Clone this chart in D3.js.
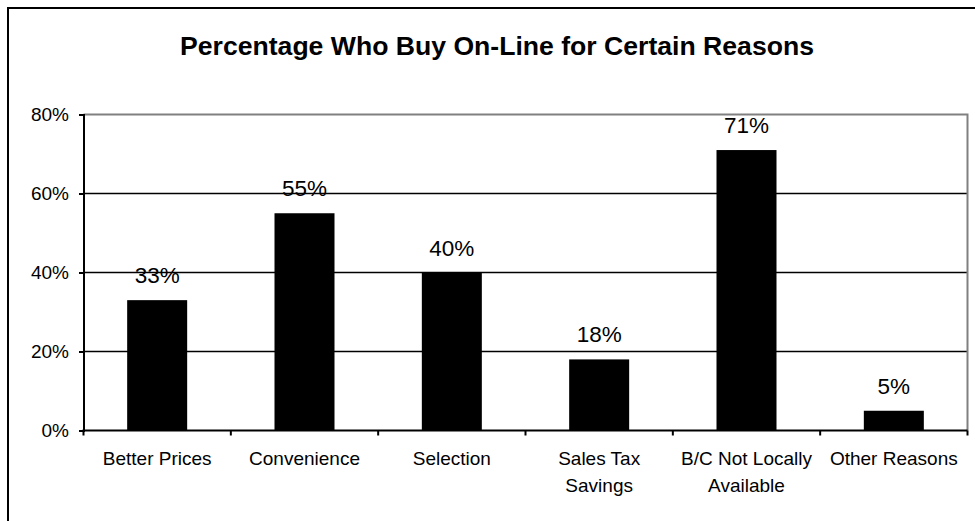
<!DOCTYPE html>
<html>
<head>
<meta charset="utf-8">
<script src="https://cdn.jsdelivr.net/npm/d3@7"></script>
<style>
  html, body { margin: 0; padding: 0; background: #fff; }
  svg { display: block; font-family: "Liberation Sans", Arial, sans-serif; }
</style>
</head>
<body>
<svg id="chart" width="975" height="521"></svg>
<script>
// Reasons people give for buying on-line, with the share citing each one
const categories = [
  ["Better Prices"],
  ["Convenience"],
  ["Selection"],
  ["Sales Tax", "Savings"],
  ["B/C Not Locally", "Available"],
  ["Other Reasons"]
];
const values = [33, 55, 40, 18, 71, 5];
const yTicks = [0, 20, 40, 60, 80];
const title = "Percentage Who Buy On-Line for Certain Reasons";

const svg = d3.select("#chart");
const W = 975, H = 521;
const plot = { left: 83.5, right: 967.5, top: 114.5, bottom: 430.5 };

// Outer chart frame (runs off the right and bottom of the canvas)
svg.append("rect")
  .attr("x", 8).attr("y", 8)
  .attr("width", W).attr("height", H)
  .attr("fill", "#fff").attr("stroke", "#000").attr("stroke-width", 2);

svg.append("text")
  .attr("x", 497).attr("y", 55)
  .attr("text-anchor", "middle")
  .attr("font-size", 26.6).attr("font-weight", "bold")
  .text(title);

const x = d3.scaleBand()
  .domain(d3.range(values.length))
  .range([plot.left, plot.right])
  .paddingInner(0).paddingOuter(0);

const y = d3.scaleLinear().domain([0, 80]).range([plot.bottom, plot.top]);

// Horizontal gridlines
svg.append("g")
  .selectAll("line")
  .data(yTicks.filter(t => t > 0 && t < 80))
  .join("line")
  .attr("x1", plot.left).attr("x2", plot.right)
  .attr("y1", d => y(d)).attr("y2", d => y(d))
  .attr("stroke", "#000").attr("stroke-width", 1.6);

// Plot-area border on top and right
svg.append("path")
  .attr("d", `M${plot.left},${y(80)}H${plot.right}V${plot.bottom}`)
  .attr("fill", "none").attr("stroke", "#808080").attr("stroke-width", 2);

// Bars
const barW = 60;
svg.append("g")
  .selectAll("rect")
  .data(values)
  .join("rect")
  .attr("x", (d, i) => x(i) + x.bandwidth() / 2 - barW / 2)
  .attr("y", d => y(d))
  .attr("width", barW)
  .attr("height", d => y(0) - y(d))
  .attr("fill", "#000");

// Value labels
svg.append("g")
  .selectAll("text")
  .data(values)
  .join("text")
  .attr("x", (d, i) => x(i) + x.bandwidth() / 2)
  .attr("y", d => y(d) - 17)
  .attr("text-anchor", "middle")
  .attr("font-size", 22.5)
  .text(d => d + "%");

// Y axis
const yAxis = svg.append("g")
  .attr("transform", `translate(${plot.left},0)`)
  .call(d3.axisLeft(y).tickValues(yTicks).tickFormat(d => d + "%").tickSize(4.5).tickPadding(10));
yAxis.select(".domain").attr("stroke", "#000").attr("stroke-width", 2);
yAxis.selectAll(".tick line").attr("stroke", "#000").attr("stroke-width", 2);
yAxis.selectAll(".tick text")
  .attr("font-size", 19).attr("font-family", "Liberation Sans, Arial, sans-serif")
  .attr("fill", "#000");

// X axis: baseline with ticks at category boundaries
const xAxis = svg.append("g");
xAxis.append("line")
  .attr("x1", plot.left - 1).attr("x2", plot.right)
  .attr("y1", y(0)).attr("y2", y(0))
  .attr("stroke", "#000").attr("stroke-width", 2);
xAxis.selectAll("line.tick")
  .data(d3.range(values.length + 1))
  .join("line")
  .attr("class", "tick")
  .attr("x1", i => i < values.length ? x(i) : plot.right)
  .attr("x2", i => i < values.length ? x(i) : plot.right)
  .attr("y1", y(0)).attr("y2", y(0) + 5)
  .attr("stroke", "#000").attr("stroke-width", 2);

// Category labels (wrapped onto two lines where needed)
const cat = svg.append("g")
  .selectAll("text")
  .data(categories)
  .join("text")
  .attr("x", (d, i) => x(i) + x.bandwidth() / 2)
  .attr("y", 465)
  .attr("text-anchor", "middle")
  .attr("font-size", 19);
cat.selectAll("tspan")
  .data(d => d)
  .join("tspan")
  .attr("x", function () { return d3.select(this.parentNode).attr("x"); })
  .attr("dy", (d, j) => j === 0 ? 0 : 27)
  .text(d => d);
</script>
</body>
</html>
